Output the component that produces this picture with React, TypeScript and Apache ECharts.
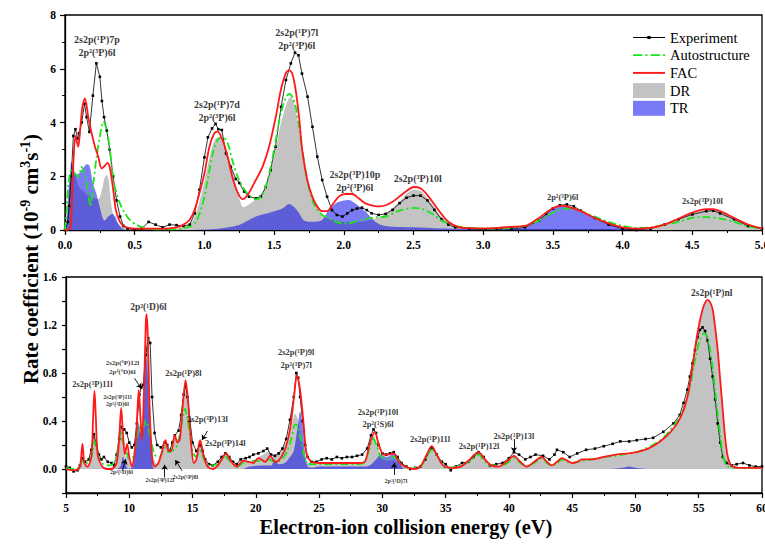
import React, { useEffect, useRef } from "react";
import * as echarts from "echarts";

const FONT = '"Liberation Serif", "Times New Roman", Times, serif';

type Pt = [number, number];

// ---------------- Upper panel (0 – 5 eV) ----------------
const topExperiment: Pt[] = [
  [0, 0], [0.02, 0.3], [0.03, 0.9], [0.045, 2.0], [0.06, 3.5], [0.075, 3.75], [0.09, 3.4], [0.1, 3.6],
  [0.12, 4.0], [0.14, 4.7], [0.155, 4.2], [0.175, 3.65], [0.2, 5.0], [0.225, 6.2], [0.25, 5.7], [0.265, 4.8],
  [0.28, 4.2], [0.3, 3.7], [0.32, 3.0], [0.345, 2.0], [0.37, 1.1], [0.395, 0.5], [0.42, 0.15], [0.45, 0.05],
  [0.5, 0.02], [0.55, 0.05], [0.6, 0.3], [0.65, 0.2], [0.7, 0.1], [0.75, 0.2], [0.8, 0.18], [0.85, 0.15],
  [0.895, 0.2], [0.93, 0.62], [0.965, 1.5], [1.0, 2.7], [1.025, 3.45], [1.055, 3.78], [1.08, 3.95], [1.1, 3.75],
  [1.125, 3.72], [1.155, 2.85], [1.19, 2.35], [1.225, 1.9], [1.25, 1.75], [1.285, 1.43], [1.32, 1.24], [1.37, 1.18],
  [1.405, 1.24], [1.44, 1.6], [1.475, 2.23], [1.51, 3.1], [1.55, 4.58], [1.585, 5.58], [1.62, 6.2], [1.65, 6.6],
  [1.675, 6.5], [1.7, 5.82], [1.74, 4.96], [1.775, 3.84], [1.81, 2.73], [1.845, 1.86], [1.88, 1.24], [1.915, 0.74],
  [1.95, 0.56], [1.99, 0.5], [2.025, 0.62], [2.06, 0.74], [2.095, 0.8], [2.13, 0.83], [2.165, 0.74], [2.2, 0.62],
  [2.25, 0.56], [2.3, 0.6], [2.35, 0.75], [2.4, 1.0], [2.45, 1.2], [2.5, 1.28], [2.55, 1.28], [2.6, 1.1],
  [2.65, 0.75], [2.7, 0.4], [2.75, 0.2], [2.8, 0.1], [2.9, 0.05], [3.0, 0.02], [3.1, 0.05], [3.2, 0.05],
  [3.3, 0.1], [3.4, 0.35], [3.45, 0.6], [3.5, 0.8], [3.55, 0.92], [3.6, 0.95], [3.65, 0.88], [3.7, 0.72],
  [3.8, 0.45], [3.9, 0.2], [4.0, 0.05], [4.1, 0.0], [4.2, 0.05], [4.3, 0.2], [4.4, 0.4], [4.5, 0.58],
  [4.6, 0.7], [4.65, 0.72], [4.7, 0.62], [4.8, 0.4], [4.9, 0.15], [5.0, 0.05],
];

const topAutostructure: Pt[] = [
  [0, 0], [0.012, 0.74], [0.025, 1.73], [0.048, 2.23], [0.072, 2.1], [0.096, 1.98], [0.12, 2.35], [0.143, 1.98],
  [0.167, 1.36], [0.184, 0.87], [0.203, 1.73], [0.227, 2.73], [0.25, 3.47], [0.275, 4.03], [0.299, 3.72],
  [0.323, 2.97], [0.346, 1.86], [0.37, 1.36], [0.394, 0.99], [0.43, 0.62], [0.466, 0.37], [0.514, 0.19],
  [0.585, 0.06], [0.7, 0.02], [0.8, 0.03], [0.893, 0.12], [0.94, 0.31], [0.988, 0.99], [1.024, 1.86],
  [1.06, 2.85], [1.095, 3.35], [1.13, 3.47], [1.167, 3.22], [1.2, 2.6], [1.238, 1.98], [1.274, 1.61],
  [1.32, 1.3], [1.369, 1.14], [1.405, 1.24], [1.44, 1.61], [1.476, 2.35], [1.512, 3.35], [1.548, 4.34],
  [1.583, 4.9], [1.607, 5.06], [1.63, 4.96], [1.655, 4.58], [1.679, 3.84], [1.702, 2.97], [1.738, 1.86],
  [1.774, 1.12], [1.81, 0.74], [1.845, 0.56], [1.893, 0.43], [1.94, 0.31], [1.988, 0.25], [2.036, 0.25],
  [2.083, 0.31], [2.13, 0.37], [2.18, 0.43], [2.226, 0.47], [2.3, 0.5], [2.4, 0.72], [2.5, 0.82], [2.55, 0.8],
  [2.6, 0.7], [2.65, 0.55], [2.7, 0.35], [2.8, 0.15], [2.9, 0.08], [3.0, 0.05], [3.1, 0.05], [3.2, 0.08],
  [3.3, 0.15], [3.4, 0.35], [3.5, 0.65], [3.6, 0.8], [3.65, 0.78], [3.7, 0.7], [3.8, 0.5], [3.9, 0.3],
  [4.0, 0.15], [4.1, 0.08], [4.2, 0.1], [4.3, 0.2], [4.4, 0.3], [4.5, 0.45], [4.55, 0.48], [4.6, 0.48],
  [4.7, 0.42], [4.8, 0.3], [4.9, 0.13], [5.0, 0.05],
];

const topFAC: Pt[] = [
  [0, 0], [0.035, 0.05], [0.045, 0.5], [0.06, 2.5], [0.075, 3.5], [0.085, 3.3], [0.095, 3.1], [0.11, 3.8],
  [0.125, 4.6], [0.143, 4.9], [0.167, 4.2], [0.191, 3.6], [0.215, 3.1], [0.239, 2.72], [0.263, 2.29],
  [0.287, 2.4], [0.305, 2.5], [0.323, 2.29], [0.346, 1.49], [0.365, 0.74], [0.394, 0.3], [0.43, 0.12],
  [0.5, 0.05], [0.6, 0.05], [0.7, 0.05], [0.8, 0.1], [0.85, 0.2], [0.893, 0.37], [0.929, 0.74], [0.964, 1.36],
  [1.0, 2.1], [1.036, 3.1], [1.071, 3.6], [1.095, 3.66], [1.13, 3.35], [1.167, 2.73], [1.2, 1.98], [1.238, 1.4],
  [1.274, 1.15], [1.31, 1.3], [1.369, 1.86], [1.417, 2.35], [1.464, 3.1], [1.512, 4.21], [1.548, 5.2],
  [1.583, 5.82], [1.607, 5.95], [1.63, 5.82], [1.655, 5.2], [1.679, 4.21], [1.702, 2.97], [1.738, 1.86],
  [1.774, 1.24], [1.81, 0.87], [1.845, 0.7], [1.88, 0.7], [1.917, 0.93], [1.964, 1.24], [2.01, 1.34],
  [2.06, 1.34], [2.107, 1.18], [2.155, 0.99], [2.214, 0.9], [2.26, 0.88], [2.3, 0.92], [2.35, 1.05],
  [2.4, 1.25], [2.45, 1.45], [2.5, 1.6], [2.55, 1.55], [2.6, 1.3], [2.65, 0.95], [2.7, 0.6], [2.75, 0.31],
  [2.82, 0.12], [2.9, 0.07], [3.0, 0.06], [3.1, 0.08], [3.2, 0.12], [3.3, 0.15], [3.4, 0.45], [3.5, 0.82],
  [3.56, 0.9], [3.6, 0.88], [3.7, 0.7], [3.8, 0.45], [3.9, 0.25], [4.0, 0.1], [4.1, 0.05], [4.2, 0.08],
  [4.3, 0.2], [4.4, 0.42], [4.5, 0.65], [4.6, 0.78], [4.65, 0.78], [4.7, 0.7], [4.8, 0.45], [4.9, 0.2], [5.0, 0.06],
];

const topDR: Pt[] = [
  [0, 0], [0.015, 0.3], [0.03, 1.5], [0.045, 2.3], [0.06, 2.4], [0.075, 2.0], [0.1, 1.6], [0.13, 1.45],
  [0.16, 1.3], [0.2, 1.2], [0.24, 1.15], [0.265, 1.5], [0.285, 1.95], [0.3, 2.05], [0.315, 1.8], [0.33, 1.0],
  [0.35, 0.5], [0.38, 0.25], [0.42, 0.1], [0.5, 0.03], [0.6, 0.02], [0.7, 0.02], [0.8, 0.05], [0.9, 0.25],
  [0.95, 0.8], [1.0, 1.8], [1.05, 3.0], [1.08, 3.4], [1.11, 3.45], [1.15, 3.1], [1.2, 2.2], [1.24, 1.4],
  [1.28, 0.85], [1.32, 0.95], [1.38, 1.2], [1.44, 1.6], [1.5, 2.7], [1.55, 4.0], [1.6, 4.85], [1.62, 4.95],
  [1.65, 4.6], [1.7, 3.1], [1.75, 1.7], [1.8, 0.95], [1.85, 0.55], [1.9, 0.4], [2.0, 0.3], [2.1, 0.3],
  [2.2, 0.38], [2.3, 0.6], [2.4, 1.05], [2.45, 1.35], [2.5, 1.5], [2.55, 1.45], [2.6, 1.2], [2.65, 0.85],
  [2.7, 0.5], [2.8, 0.15], [2.9, 0.05], [3.0, 0.02], [3.2, 0.02], [3.4, 0.02], [3.6, 0.02], [3.8, 0.02],
  [4.0, 0.03], [4.2, 0.06], [4.3, 0.18], [4.4, 0.4], [4.5, 0.62], [4.6, 0.75], [4.65, 0.76], [4.7, 0.68],
  [4.8, 0.43], [4.9, 0.18], [5.0, 0.05],
];

const topTR: Pt[] = [
  [0, 0], [0.012, 0.3], [0.025, 1.5], [0.036, 2.0], [0.045, 2.55], [0.06, 2.3], [0.075, 2.05], [0.1, 2.1],
  [0.13, 2.3], [0.155, 2.45], [0.175, 2.4], [0.2, 1.75], [0.225, 1.35], [0.25, 0.85], [0.27, 0.45],
  [0.285, 0.35], [0.31, 0.5], [0.34, 0.6], [0.36, 0.5], [0.38, 0.25], [0.41, 0.05], [0.45, 0], [0.9, 0],
  [1.0, 0.02], [1.1, 0.05], [1.25, 0.19], [1.37, 0.5], [1.49, 0.68], [1.56, 0.8], [1.607, 0.97], [1.64, 0.87],
  [1.68, 0.62], [1.71, 0.37], [1.75, 0.31], [1.8, 0.31], [1.845, 0.37], [1.89, 0.74], [1.94, 0.99],
  [1.99, 1.09], [2.036, 1.12], [2.083, 0.99], [2.13, 0.8], [2.18, 0.56], [2.226, 0.31], [2.27, 0.19],
  [2.35, 0.12], [2.5, 0.1], [2.7, 0.06], [3.0, 0.05], [3.2, 0.1], [3.3, 0.12], [3.4, 0.4], [3.5, 0.78],
  [3.55, 0.88], [3.6, 0.88], [3.7, 0.7], [3.8, 0.45], [3.9, 0.22], [4.0, 0.08], [4.1, 0.02], [4.2, 0], [5.0, 0],
];

// ---------------- Lower panel (5 – 60 eV) ----------------
const botExperiment: Pt[] = [
  [5.0, 0.02], [5.3, 0.01], [5.6, -0.02], [5.9, -0.01], [6.1, 0.03], [6.3, 0.09], [6.5, 0.06], [6.8, 0.08],
  [7.0, 0.16], [7.2, 0.29], [7.4, 0.2], [7.6, 0.12], [7.8, 0.08], [8.0, 0.1], [8.3, 0.06], [8.6, 0.05],
  [8.8, 0.03], [9.0, 0.12], [9.2, 0.25], [9.4, 0.35], [9.6, 0.33], [9.8, 0.3], [10.0, 0.22], [10.2, 0.18],
  [10.4, 0.2], [10.6, 0.38], [10.8, 0.62], [10.95, 0.68], [11.1, 0.7], [11.3, 0.95], [11.5, 1.09], [11.65, 1.05],
  [11.8, 0.6], [12.0, 0.3], [12.2, 0.2], [12.5, 0.18], [12.8, 0.22], [13.0, 0.2], [13.2, 0.15], [13.4, 0.22],
  [13.6, 0.28], [13.9, 0.32], [14.1, 0.45], [14.3, 0.62], [14.45, 0.7], [14.6, 0.6], [14.8, 0.4], [15.0, 0.22],
  [15.3, 0.15], [15.6, 0.2], [15.8, 0.15], [16.0, 0.08], [16.3, 0.04], [16.6, 0.03], [17.0, 0.06], [17.3, 0.1],
  [17.6, 0.13], [17.9, 0.1], [18.2, 0.06], [18.5, 0.04], [18.8, 0.08], [19.2, 0.09], [19.5, 0.1], [19.8, 0.12],
  [20.2, 0.13], [20.6, 0.15], [20.9, 0.17], [21.2, 0.12], [21.5, 0.11], [21.8, 0.13], [22.1, 0.17], [22.4, 0.25],
  [22.7, 0.41], [23.0, 0.6], [23.2, 0.8], [23.35, 0.76], [23.5, 0.6], [23.7, 0.4], [23.9, 0.2], [24.1, 0.1],
  [24.4, 0.06], [24.8, 0.06], [25.2, 0.08], [25.6, 0.09], [26.0, 0.08], [26.4, 0.1], [26.8, 0.09], [27.2, 0.1],
  [27.6, 0.1], [28.0, 0.11], [28.4, 0.12], [28.8, 0.17], [29.1, 0.28], [29.3, 0.33], [29.5, 0.3], [29.7, 0.2],
  [30.0, 0.13], [30.3, 0.12], [30.6, 0.13], [30.9, 0.14], [31.2, 0.1], [31.5, 0.05], [31.9, 0.02], [32.2, 0.0],
  [32.6, 0.01], [33.0, 0.02], [33.4, 0.08], [33.9, 0.18], [34.3, 0.12], [34.7, 0.06], [35.0, 0.04], [35.4, -0.01],
  [35.8, 0.02], [36.3, 0.05], [36.8, 0.06], [37.2, 0.1], [37.6, 0.14], [38.0, 0.1], [38.5, 0.03], [39.0, 0.04],
  [39.5, 0.05], [40.0, 0.09], [40.4, 0.14], [40.8, 0.12], [41.3, 0.08], [41.7, 0.1], [42.1, 0.12], [42.7, 0.11],
  [43.2, 0.08], [43.6, 0.12], [43.8, 0.16], [44.3, 0.14], [44.8, 0.1], [45.4, 0.13], [46.1, 0.16], [46.8, 0.17],
  [47.5, 0.19], [48.2, 0.21], [48.8, 0.23], [49.5, 0.23], [50.1, 0.24], [50.8, 0.25], [51.4, 0.26], [52.2, 0.31],
  [53.0, 0.38], [53.5, 0.45], [53.8, 0.55], [54.1, 0.66], [54.3, 0.77], [54.5, 0.88], [54.7, 0.99], [54.9, 1.1],
  [55.1, 1.16], [55.3, 1.18], [55.5, 1.15], [55.7, 1.07], [55.9, 0.92], [56.1, 0.77], [56.3, 0.58], [56.5, 0.38],
  [56.7, 0.22], [56.9, 0.1], [57.2, 0.05], [57.6, 0.03], [58.0, 0.04], [58.5, 0.05], [59.0, 0.03], [59.5, 0.02],
  [60.0, 0.02],
];

const botFAC: Pt[] = [
  [5.0, 0.0], [5.5, -0.01], [6.0, 0.0], [6.15, 0.05], [6.3, 0.21], [6.45, 0.05], [6.7, 0.02], [7.0, 0.1],
  [7.15, 0.45], [7.25, 0.65], [7.35, 0.45], [7.5, 0.12], [7.8, 0.03], [8.2, 0.0], [8.6, 0.0], [9.0, 0.05],
  [9.2, 0.25], [9.36, 0.51], [9.5, 0.3], [9.65, 0.12], [9.83, 0.21], [10.0, 0.1], [10.2, 0.02], [10.5, 0.2],
  [10.65, 0.5], [10.75, 0.66], [10.85, 0.5], [11.0, 0.24], [11.15, 0.6], [11.3, 1.2], [11.36, 1.29], [11.45, 1.15],
  [11.6, 0.5], [11.8, 0.1], [12.0, 0.02], [12.3, 0.05], [12.6, 0.15], [12.86, 0.24], [13.1, 0.15], [13.3, 0.15],
  [13.6, 0.28], [13.8, 0.22], [14.0, 0.25], [14.2, 0.5], [14.45, 0.74], [14.7, 0.5], [14.9, 0.2], [15.1, 0.05],
  [15.3, 0.08], [15.6, 0.24], [15.9, 0.1], [16.2, 0.02], [16.6, 0.0], [17.0, 0.03], [17.3, 0.08], [17.65, 0.13],
  [18.0, 0.07], [18.5, 0.02], [19.0, 0.07], [19.4, 0.06], [19.8, 0.05], [20.2, 0.09], [20.75, 0.06], [21.15, 0.11],
  [21.5, 0.06], [21.8, 0.07], [22.3, 0.16], [22.7, 0.33], [23.0, 0.58], [23.25, 0.78], [23.5, 0.66], [23.8, 0.35],
  [24.0, 0.13], [24.4, 0.06], [25.0, 0.05], [26.0, 0.05], [27.0, 0.05], [28.0, 0.05], [28.6, 0.06], [29.0, 0.21],
  [29.4, 0.31], [29.7, 0.21], [30.1, 0.12], [30.5, 0.12], [30.9, 0.13], [31.3, 0.06], [31.8, 0.02], [32.5, 0.0],
  [33.0, 0.02], [33.5, 0.12], [33.9, 0.19], [34.3, 0.12], [34.8, 0.03], [35.5, 0.01], [36.2, 0.02], [36.8, 0.07],
  [37.6, 0.14], [38.1, 0.08], [38.6, 0.03], [39.2, 0.02], [39.8, 0.06], [40.4, 0.11], [40.9, 0.06], [41.4, 0.02],
  [42.0, 0.06], [42.6, 0.1], [43.0, 0.06], [43.4, 0.03], [43.8, 0.06], [44.2, 0.09], [44.6, 0.07], [45.0, 0.05],
  [45.4, 0.06], [45.8, 0.08], [46.5, 0.08], [47.5, 0.1], [48.5, 0.12], [49.5, 0.13], [50.1, 0.14], [51.0, 0.17],
  [51.7, 0.21], [52.3, 0.26], [52.7, 0.3], [53.3, 0.38], [53.8, 0.49], [54.1, 0.6], [54.3, 0.71], [54.6, 0.92],
  [54.8, 1.07], [55.1, 1.24], [55.4, 1.36], [55.7, 1.41], [55.9, 1.39], [56.1, 1.33], [56.3, 1.18], [56.5, 0.99],
  [56.7, 0.74], [56.9, 0.49], [57.1, 0.25], [57.3, 0.1], [57.5, 0.04], [57.7, 0.02], [58.2, 0.01], [59.0, 0.01],
  [60.0, 0.01],
];

const botAutostructure: Pt[] = [
  [5.0, 0.01], [5.5, 0.0], [6.0, 0.01], [6.3, 0.07], [6.5, 0.04], [7.0, 0.1], [7.25, 0.23], [7.5, 0.12],
  [7.8, 0.05], [8.5, 0.03], [9.0, 0.1], [9.3, 0.32], [9.5, 0.22], [9.7, 0.18], [10.0, 0.08], [10.3, 0.1],
  [10.6, 0.25], [10.8, 0.35], [11.0, 0.33], [11.3, 0.4], [11.5, 0.35], [11.7, 0.25], [12.0, 0.12], [12.4, 0.1],
  [12.8, 0.18], [13.1, 0.14], [13.5, 0.16], [13.8, 0.2], [14.1, 0.35], [14.4, 0.5], [14.7, 0.35], [15.0, 0.15],
  [15.3, 0.1], [15.6, 0.15], [15.9, 0.08], [16.3, 0.03], [17.0, 0.04], [17.6, 0.1], [18.0, 0.06], [18.5, 0.02],
  [19.0, 0.05], [19.5, 0.06], [20.0, 0.07], [20.5, 0.06], [21.0, 0.08], [21.5, 0.06], [22.0, 0.08], [22.4, 0.13],
  [22.8, 0.25], [23.1, 0.37], [23.3, 0.36], [23.6, 0.22], [23.9, 0.08], [24.2, 0.04], [25.0, 0.04], [26.0, 0.04],
  [27.0, 0.04], [28.0, 0.04], [28.6, 0.06], [29.0, 0.18], [29.3, 0.25], [29.6, 0.18], [29.9, 0.1], [30.3, 0.08],
  [30.9, 0.1], [31.4, 0.05], [32.0, 0.01], [33.0, 0.02], [33.5, 0.1], [33.9, 0.16], [34.4, 0.1], [35.0, 0.01],
  [36.0, 0.02], [37.0, 0.07], [37.6, 0.12], [38.1, 0.06], [38.6, 0.03], [39.5, 0.03], [40.0, 0.06], [40.4, 0.09],
  [40.9, 0.05], [41.4, 0.02], [42.0, 0.05], [42.6, 0.09], [43.0, 0.05], [43.4, 0.03], [43.8, 0.05], [44.2, 0.08],
  [44.6, 0.06], [45.0, 0.05], [45.8, 0.07], [46.5, 0.08], [47.5, 0.1], [48.5, 0.11], [49.5, 0.13], [50.1, 0.14],
  [51.0, 0.18], [51.7, 0.22], [52.3, 0.27], [52.7, 0.32], [53.3, 0.4], [53.8, 0.5], [54.3, 0.68], [54.6, 0.85],
  [54.8, 0.95], [55.1, 1.08], [55.4, 1.13], [55.6, 1.12], [55.8, 1.05], [56.1, 0.85], [56.3, 0.65], [56.5, 0.45],
  [56.7, 0.28], [56.9, 0.12], [57.1, 0.05], [57.3, 0.02], [58.0, 0.01], [60.0, 0.01],
];

const botDR: Pt[] = [
  [5.0, 0], [6.0, 0], [6.15, 0.03], [6.3, 0.08], [6.45, 0.03], [6.8, 0.02], [7.0, 0.1], [7.25, 0.3],
  [7.5, 0.1], [7.8, 0.02], [8.5, 0.01], [9.0, 0.05], [9.2, 0.2], [9.36, 0.32], [9.5, 0.22], [9.7, 0.1],
  [9.85, 0.12], [10.0, 0.06], [10.2, 0.03], [10.5, 0.15], [10.75, 0.38], [11.0, 0.3], [11.2, 0.6], [11.4, 1.08],
  [11.55, 1.0], [11.7, 0.5], [11.9, 0.1], [12.2, 0.04], [12.5, 0.1], [12.86, 0.22], [13.1, 0.15], [13.3, 0.14],
  [13.6, 0.25], [13.9, 0.25], [14.2, 0.5], [14.45, 0.72], [14.7, 0.5], [14.9, 0.2], [15.1, 0.05], [15.3, 0.07],
  [15.6, 0.22], [15.9, 0.1], [16.2, 0.02], [16.6, 0.01], [17.0, 0.03], [17.3, 0.08], [17.65, 0.13], [18.0, 0.07],
  [18.5, 0.02], [19.0, 0.07], [19.4, 0.06], [19.8, 0.07], [20.2, 0.1], [20.6, 0.12], [21.0, 0.15], [21.3, 0.1],
  [21.7, 0.12], [22.1, 0.17], [22.5, 0.25], [22.9, 0.4], [23.1, 0.46], [23.3, 0.42], [23.6, 0.25], [23.9, 0.1],
  [24.2, 0.05], [25.0, 0.04], [26.0, 0.04], [27.0, 0.04], [28.0, 0.04], [28.6, 0.07], [29.0, 0.2], [29.3, 0.28],
  [29.6, 0.2], [29.9, 0.1], [30.3, 0.07], [30.9, 0.07], [31.4, 0.04], [32.0, 0.01], [33.0, 0.02], [33.5, 0.12],
  [33.9, 0.19], [34.3, 0.12], [34.8, 0.03], [35.5, 0.01], [36.2, 0.02], [36.8, 0.07], [37.6, 0.14], [38.1, 0.08],
  [38.6, 0.03], [39.2, 0.02], [39.8, 0.06], [40.4, 0.11], [40.9, 0.06], [41.4, 0.02], [42.0, 0.06], [42.6, 0.1],
  [43.0, 0.06], [43.4, 0.03], [43.8, 0.06], [44.2, 0.09], [44.6, 0.07], [45.0, 0.05], [45.8, 0.08], [46.5, 0.08],
  [47.5, 0.1], [48.5, 0.11], [49.5, 0.12], [50.1, 0.14], [51.0, 0.17], [51.7, 0.21], [52.3, 0.26], [52.7, 0.3],
  [53.3, 0.38], [53.8, 0.49], [54.1, 0.6], [54.3, 0.71], [54.6, 0.92], [54.8, 1.07], [55.1, 1.24], [55.4, 1.36],
  [55.7, 1.41], [55.9, 1.39], [56.1, 1.33], [56.3, 1.18], [56.5, 0.99], [56.7, 0.74], [56.9, 0.49], [57.1, 0.25],
  [57.3, 0.1], [57.5, 0.04], [57.7, 0.02], [58.2, 0.01], [60.0, 0.01],
];

const botTR: Pt[] = [
  [5.0, 0], [9.0, 0], [9.3, 0.02], [9.5, 0.1], [9.7, 0.05], [9.9, 0.0], [10.3, 0.02], [10.5, 0.2],
  [10.7, 0.38], [10.9, 0.3], [11.05, 0.3], [11.2, 0.7], [11.3, 0.96], [11.45, 0.8], [11.6, 0.4], [11.8, 0.08],
  [12.0, 0], [19.0, 0], [19.5, 0.02], [20.5, 0.03], [21.2, 0.03], [21.5, 0.08], [21.8, 0.04], [22.3, 0.05],
  [22.7, 0.1], [23.0, 0.15], [23.3, 0.35], [23.5, 0.48], [23.7, 0.35], [23.9, 0.12], [24.1, 0.02], [24.5, 0.01],
  [25.0, 0.02], [28.0, 0.02], [28.5, 0.02], [29.0, 0.03], [29.5, 0.08], [29.9, 0.12], [30.3, 0.1], [30.6, 0.11],
  [30.9, 0.13], [31.3, 0.06], [31.8, 0], [48.0, 0], [49.0, 0.01], [49.5, 0.02], [50.0, 0.01], [51.0, 0], [60.0, 0],
];

// ---------------- Annotations (energy, rate, text) ----------------
type Note = [number, number, string];
const topNotes: Note[] = [
  [0.229, 6.83, "2s2p(¹P)7p\n2p²(³P)6l"],
  [1.09, 4.44, "2s2p(¹P)7d\n2p²(³P)6l"],
  [1.663, 7.12, "2s2p(¹P)7l\n2p²(³P)6l"],
  [2.079, 1.84, "2s2p(³P)10p\n2p²(³P)6l"],
  [2.53, 1.9, "2s2p(³P)10l"],
];
const topSmallNotes: Note[] = [
  [3.57, 1.23, "2p²(³P)6l"],
  [4.573, 1.08, "2s2p(³P)10l"],
];
const botBigNotes: Note[] = [
  [11.51, 1.35, "2p²(¹D)6l"],
  [56.02, 1.47, "2s2p(¹P)nl"],
];
const botNotes: Note[] = [
  [7.09, 0.71, "2s2p(³P)11l"],
  [14.28, 0.8, "2s2p(¹P)8l"],
  [16.17, 0.417, "2s2p(³P)13l"],
  [17.59, 0.217, "2s2p(³P)14l"],
  [23.19, 0.92, "2s2p(¹P)9l\n2p²(³P)7l"],
  [29.66, 0.425, "2s2p(¹P)10l\n2p²(¹S)6l"],
  [33.77, 0.25, "2s2p(¹P)11l"],
  [37.64, 0.19, "2s2p(¹P)12l"],
  [40.4, 0.275, "2s2p(¹P)13l"],
];
const botSmallNotes: Note[] = [
  [9.46, 0.846, "2s2p(³P)12l\n2p²(¹D)6l"],
];
const botTinyNotes: Note[] = [
  [9.07, 0.57, "2s2p(³P)11l\n2p²(¹D)6l"],
  [9.38, -0.025, "2p²(¹D)6l"],
  [12.42, -0.09, "2s2p(³P)12l"],
  [14.43, -0.067, "2s2p(¹P)8l"],
  [31.08, -0.1, "2p²(¹D)7l"],
];
// arrows: [fromE, fromV, toE, toV]
const botArrows: [number, number, number, number][] = [
  [9.46, -0.014, 9.72, 0.081],
  [12.8, -0.07, 12.8, 0.035],
  [14.17, -0.014, 13.64, 0.075],
  [30.93, -0.05, 30.93, 0.05],
  [40.4, 0.25, 40.4, 0.14],
  [16.18, 0.317, 15.75, 0.242],
  [10.41, 0.756, 10.96, 0.672],
];

const COLORS = {
  exp: "#000000",
  auto: "#19e619",
  fac: "#ff1a1a",
  dr: "#c3c3c3",
  tr: "rgba(0,0,235,0.52)",
};

function buildOption(): any {
  const axisCommon = {
    axisLine: { onZero: false, lineStyle: { color: "#000", width: 1.3 } },
    axisTick: { inside: false, length: 5, lineStyle: { color: "#000", width: 1.2 } },
    splitLine: { show: false },
    minorSplitLine: { show: false },
  };
  const labelCommon = { fontFamily: FONT, fontWeight: "bold", fontSize: 11.5, color: "#000" };

  const curveSeries = (gi: number, exp: Pt[], auto: Pt[], fac: Pt[], dr: Pt[], tr: Pt[]) => [
    {
      name: "DR", type: "line", xAxisIndex: gi, yAxisIndex: gi, data: dr, z: 1,
      showSymbol: false, smooth: 0.3, color: COLORS.dr, itemStyle: { color: COLORS.dr },
      lineStyle: { width: 0 }, areaStyle: { color: COLORS.dr, opacity: 1 }, silent: true,
    },
    {
      name: "TR", type: "line", xAxisIndex: gi, yAxisIndex: gi, data: tr, z: 2,
      showSymbol: false, smooth: 0.3, color: COLORS.tr, itemStyle: { color: COLORS.tr },
      lineStyle: { width: 0 }, areaStyle: { color: COLORS.tr, opacity: 1 }, silent: true,
    },
    {
      name: "Experiment", type: "line", xAxisIndex: gi, yAxisIndex: gi, data: exp, z: 3,
      showSymbol: true, showAllSymbol: true, symbol: "rect", symbolSize: 2.6, color: COLORS.exp,
      itemStyle: { color: COLORS.exp }, lineStyle: { color: COLORS.exp, width: 0.8 }, silent: true,
    },
    {
      name: "Autostructure", type: "line", xAxisIndex: gi, yAxisIndex: gi, data: auto, z: 4,
      showSymbol: false, smooth: 0.3, color: COLORS.auto, itemStyle: { color: COLORS.auto },
      lineStyle: { color: COLORS.auto, width: 1.8, type: [8, 3, 2, 3] }, silent: true,
    },
    {
      name: "FAC", type: "line", xAxisIndex: gi, yAxisIndex: gi, data: fac, z: 5,
      showSymbol: false, smooth: 0.3, color: COLORS.fac, itemStyle: { color: COLORS.fac },
      lineStyle: { color: COLORS.fac, width: 1.8 }, silent: true,
    },
  ];

  const noteSeries = (gi: number, notes: Note[], size: number, lh: number) => ({
    type: "scatter", xAxisIndex: gi, yAxisIndex: gi, symbolSize: 0, silent: true, z: 10,
    itemStyle: { color: "transparent" },
    data: notes.map(([e, v, t]) => ({ value: [e, v], name: t })),
    label: {
      show: true, position: "inside", formatter: (p: any) => p.name,
      fontFamily: FONT, fontWeight: "bold", fontSize: size, lineHeight: lh, color: "#000",
      align: "center", verticalAlign: "middle",
    },
  });

  return {
    animation: false,
    backgroundColor: "#fff",
    grid: [
      { left: 65, right: 3, top: 15, height: 215, show: true, borderColor: "#000", borderWidth: 1.3, outerBoundsMode: "none" },
      { left: 66, right: 3, top: 277, height: 216, show: true, borderColor: "#000", borderWidth: 1.3, outerBoundsMode: "none" },
    ],
    legend: {
      left: 628, top: 25, orient: "vertical", itemWidth: 32, itemHeight: 15, itemGap: 2.7,
      selectedMode: false,
      textStyle: { fontFamily: FONT, fontSize: 14.5, color: "#000" },
      data: [
        { name: "Experiment", icon: "path://M0 5H30V5.8H0Z M13.5 3.9H16.5V6.9H13.5Z" },
        { name: "Autostructure", icon: "path://M0 0H9V1.6H0Z M12 0H14V1.6H12Z M17 0H26V1.6H17Z M29 0H31V1.6H29Z" },
        { name: "FAC", icon: "path://M0 0H30V1.8H0Z" },
        { name: "DR", icon: "rect" },
        { name: "TR", icon: "rect" },
      ],
    },
    xAxis: [
      {
        gridIndex: 0, type: "value", min: 0, max: 5, interval: 0.5, ...axisCommon,
        minorTick: { show: true, splitNumber: 2, length: 3, lineStyle: { color: "#000", width: 1 } },
        axisLabel: { ...labelCommon, margin: 9, showMaxLabel: true, formatter: (v: number) => v.toFixed(1) },
      },
      {
        gridIndex: 1, type: "value", min: 5, max: 60, interval: 5, ...axisCommon,
        minorTick: { show: true, splitNumber: 2, length: 3, lineStyle: { color: "#000", width: 1 } },
        axisLabel: { ...labelCommon, margin: 9, showMaxLabel: true, formatter: (v: number) => String(v) },
      },
    ],
    yAxis: [
      {
        gridIndex: 0, type: "value", position: "left", min: 0, max: 8, interval: 2, ...axisCommon,
        minorTick: { show: true, splitNumber: 2, length: 3, lineStyle: { color: "#000", width: 1 } },
        axisLabel: { ...labelCommon, margin: 9, formatter: (v: number) => String(v) },
      },
      {
        // min -0.2 is a multiple of the 0.2 interval; labels only every 0.4 from 0
        gridIndex: 1, type: "value", position: "left", min: -0.2, max: 1.6, interval: 0.2, ...axisCommon,
        axisTick: { ...axisCommon.axisTick, length: 4 },
        axisLabel: {
          ...labelCommon, margin: 9, showMinLabel: true, showMaxLabel: true,
          formatter: (v: number) => {
            const k = Math.round(v * 10);
            return k >= 0 && k % 4 === 0 ? (k / 10).toFixed(1) : "";
          },
        },
      },
    ],
    graphic: [
      {
        type: "text", x: 31, y: 259, rotation: Math.PI / 2, silent: true,
        style: {
          text: "{a|Rate coefficient (10}{b|-9}{a| cm}{b|3}{a|s}{b|-1}{a|)}",
          align: "center", verticalAlign: "middle", textAlign: "center", textVerticalAlign: "middle",
          rich: {
            a: { fontSize: 21, fontWeight: "bold", fontFamily: FONT, fill: "#000", color: "#000" },
            b: { fontSize: 14, fontWeight: "bold", fontFamily: FONT, fill: "#000", color: "#000", padding: [0, 0, 11, 0] },
          },
        },
      },
      {
        type: "text", x: 406, y: 527, silent: true,
        style: {
          text: "Electron-ion collision energy (eV)",
          font: `bold 20.5px ${FONT}`, fill: "#000",
          align: "center", verticalAlign: "middle", textAlign: "center", textVerticalAlign: "middle",
        },
      },
    ],
    series: [
      ...curveSeries(0, topExperiment, topAutostructure, topFAC, topDR, topTR),
      ...curveSeries(1, botExperiment, botAutostructure, botFAC, botDR, botTR),
      noteSeries(0, topNotes, 10, 13),
      noteSeries(0, topSmallNotes, 8.5, 10),
      noteSeries(1, botBigNotes, 9.5, 12),
      noteSeries(1, botNotes, 8.5, 12.5),
      noteSeries(1, botSmallNotes, 7, 8.5),
      noteSeries(1, botTinyNotes, 6, 7.5),
      {
        type: "line", xAxisIndex: 1, yAxisIndex: 1, data: [], silent: true, z: 11,
        markLine: {
          silent: true, animation: false, symbol: ["none", "arrow"], symbolSize: 5,
          lineStyle: { color: "#000", width: 0.9, type: "solid" },
          label: { show: false },
          data: botArrows.map(([e1, v1, e2, v2]) => [{ coord: [e1, v1] }, { coord: [e2, v2] }]),
        },
      },
    ],
  };
}

export default function App() {
  const ref = useRef<HTMLDivElement>(null);
  useEffect(() => {
    document.body.style.margin = "0";
    const chart = echarts.init(ref.current as HTMLDivElement, null, { renderer: "svg" });
    chart.setOption(buildOption());
    return () => {
      chart.dispose();
    };
  }, []);
  return <div ref={ref} style={{ width: 765, height: 544, background: "#fff" }} />;
}
